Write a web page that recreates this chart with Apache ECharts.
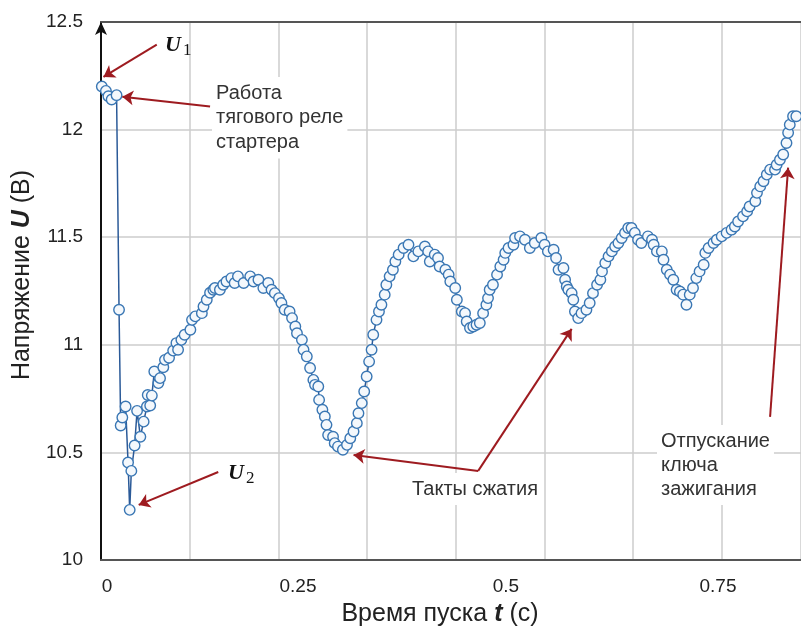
<!DOCTYPE html>
<html>
<head>
<meta charset="utf-8">
<script src="https://cdn.jsdelivr.net/npm/echarts@6/dist/echarts.min.js"></script>
<style>
html, body { margin: 0; background: #fff; }
#chart { width: 801px; height: 632px; }
</style>
</head>
<body>
<div id="chart"></div>
<script>
// время пуска, с
const timeS = [
  0.001, 0.006, 0.009, 0.013, 0.019, 0.022, 0.024, 0.026, 0.030, 0.033,
  0.035, 0.037, 0.041, 0.044, 0.048, 0.052, 0.056, 0.057, 0.060, 0.062,
  0.065, 0.070, 0.072, 0.076, 0.078, 0.083, 0.088, 0.092, 0.094, 0.098,
  0.102, 0.109, 0.111, 0.115, 0.123, 0.125, 0.129, 0.133, 0.137, 0.139,
  0.145, 0.149, 0.153, 0.159, 0.163, 0.167, 0.174, 0.182, 0.186, 0.192,
  0.198, 0.204, 0.208, 0.212, 0.217, 0.220, 0.224, 0.230, 0.233, 0.237,
  0.239, 0.245, 0.247, 0.251, 0.255, 0.259, 0.261, 0.265, 0.266, 0.270,
  0.273, 0.275, 0.277, 0.283, 0.285, 0.289, 0.295, 0.300, 0.304, 0.308,
  0.312, 0.314, 0.318, 0.321, 0.324, 0.327, 0.330, 0.332, 0.336, 0.339,
  0.342, 0.346, 0.348, 0.352, 0.356, 0.359, 0.363, 0.369, 0.375, 0.381,
  0.387, 0.395, 0.399, 0.401, 0.407, 0.411, 0.413, 0.420, 0.424, 0.426,
  0.432, 0.434, 0.440, 0.444, 0.446, 0.450, 0.454, 0.458, 0.462, 0.466,
  0.470, 0.472, 0.474, 0.478, 0.483, 0.487, 0.491, 0.493, 0.497, 0.503,
  0.505, 0.511, 0.517, 0.523, 0.529, 0.537, 0.541, 0.545, 0.552, 0.555,
  0.558, 0.564, 0.566, 0.568, 0.570, 0.574, 0.576, 0.578, 0.582, 0.586,
  0.592, 0.596, 0.600, 0.605, 0.609, 0.611, 0.615, 0.619, 0.623, 0.627,
  0.631, 0.635, 0.639, 0.643, 0.647, 0.651, 0.655, 0.659, 0.667, 0.672,
  0.674, 0.678, 0.684, 0.686, 0.690, 0.694, 0.698, 0.702, 0.706, 0.710,
  0.714, 0.718, 0.722, 0.726, 0.730, 0.735, 0.737, 0.741, 0.747, 0.751,
  0.757, 0.763, 0.769, 0.773, 0.777, 0.783, 0.788, 0.791, 0.798, 0.800,
  0.804, 0.808, 0.812, 0.816, 0.822, 0.824, 0.828, 0.832, 0.836, 0.838,
  0.840, 0.844, 0.848
];
// напряжение, В
const voltage = [
  12.200, 12.180, 12.155, 12.140, 12.160, 11.163, 10.625, 10.662, 10.713, 10.453,
  10.233, 10.414, 10.532, 10.693, 10.573, 10.643, 10.713, 10.767, 10.718, 10.764,
  10.876, 10.822, 10.845, 10.896, 10.930, 10.940, 10.973, 11.008, 10.977, 11.023,
  11.047, 11.070, 11.116, 11.132, 11.147, 11.178, 11.209, 11.242, 11.256, 11.264,
  11.256, 11.279, 11.294, 11.310, 11.287, 11.318, 11.287, 11.318, 11.294, 11.302,
  11.264, 11.287, 11.256, 11.240, 11.217, 11.194, 11.163, 11.155, 11.124, 11.085,
  11.054, 11.023, 10.977, 10.946, 10.892, 10.837, 10.814, 10.806, 10.744, 10.698,
  10.667, 10.628, 10.581, 10.573, 10.543, 10.527, 10.512, 10.535, 10.566, 10.597,
  10.636, 10.682, 10.729, 10.783, 10.853, 10.922, 10.977, 11.047, 11.116, 11.155,
  11.186, 11.233, 11.279, 11.318, 11.349, 11.387, 11.419, 11.450, 11.465, 11.411,
  11.434, 11.457, 11.434, 11.387, 11.419, 11.403, 11.364, 11.349, 11.326, 11.294,
  11.264, 11.209, 11.155, 11.147, 11.108, 11.078, 11.085, 11.093, 11.101, 11.147,
  11.186, 11.217, 11.256, 11.279, 11.326, 11.364, 11.395, 11.427, 11.450, 11.465,
  11.496, 11.504, 11.488, 11.450, 11.473, 11.496, 11.465, 11.434, 11.442, 11.403,
  11.349, 11.357, 11.302, 11.271, 11.256, 11.240, 11.209, 11.155, 11.124, 11.147,
  11.163, 11.194, 11.240, 11.279, 11.302, 11.341, 11.380, 11.411, 11.434, 11.457,
  11.473, 11.496, 11.520, 11.543, 11.543, 11.520, 11.488, 11.473, 11.504, 11.488,
  11.465, 11.434, 11.434, 11.395, 11.349, 11.326, 11.302, 11.256, 11.248, 11.233,
  11.186, 11.233, 11.264, 11.310, 11.341, 11.372, 11.427, 11.450, 11.473, 11.488,
  11.504, 11.520, 11.535, 11.550, 11.573, 11.597, 11.620, 11.643, 11.667, 11.706,
  11.736, 11.760, 11.791, 11.814, 11.814, 11.837, 11.860, 11.884, 11.938, 11.985,
  12.023, 12.062, 12.062
];
const xTickLabels = ['0', '0.25', '0.5', '0.75'];
const yTickLabels = ['10', '10.5', '11', '11.5', '12', '12.5'];

const points = timeS.map((t, i) => [t, voltage[i]]);

const chart = echarts.init(document.getElementById('chart'));

const arrowRed = '#9e1b20';
const textFont = 'Liberation Sans, Arial, sans-serif';
const mathFont = 'Liberation Serif, DejaVu Serif, serif';
const tickStyle = { fontSize: 19, color: '#222', fontFamily: textFont };

chart.setOption({
  animation: false,
  backgroundColor: '#fff',
  grid: { left: 101, right: 0, top: 22, bottom: 72 },
  xAxis: [{
    type: 'value',
    min: 0,
    max: 0.8537,
    interval: 0.25,
    name: 'Время пуска {b|t} (с)',
    nameLocation: 'middle',
    nameGap: 42,
    nameTextStyle: {
      fontSize: 25, color: '#222', fontFamily: textFont,
      padding: [0, 22, 0, 0],
      rich: { b: { fontSize: 25, fontWeight: 'bold', fontStyle: 'italic', color: '#222', fontFamily: textFont } }
    },
    axisLine: { show: true, lineStyle: { color: '#555', width: 2 } },
    axisTick: { show: false },
    splitLine: { show: false },
    axisLabel: {
      margin: 17,
      showMaxLabel: false,
      formatter: v => {
        const i = Math.round(v / 0.25);
        return xTickLabels[i] ? '{p' + i + '|' + xTickLabels[i] + '}' : '';
      },
      rich: {
        p0: Object.assign({ padding: [0, 0, 0, 12] }, tickStyle),
        p1: Object.assign({ padding: [0, 16, 0, 0] }, tickStyle),
        p2: Object.assign({ padding: [0, 10, 0, 0] }, tickStyle),
        p3: Object.assign({ padding: [0, 0, 0, 4] }, tickStyle)
      }
    }
  }, {
    // сетка вертикальных линий со своим шагом
    type: 'value',
    position: 'top',
    min: 0,
    max: 7.892,
    interval: 1,
    axisLine: { show: true, lineStyle: { color: '#555', width: 2 } },
    axisTick: { show: false },
    axisLabel: { show: false },
    splitLine: { show: true, lineStyle: { color: '#cccccc', width: 1.5 } }
  }],
  yAxis: {
    type: 'value',
    min: 10,
    max: 12.5,
    interval: 0.5,
    name: 'Напряжение {b|U} (В)',
    nameLocation: 'middle',
    nameGap: 66,
    nameTextStyle: {
      fontSize: 25, color: '#222', fontFamily: textFont,
      padding: [0, 0, 0, 32],
      rich: { b: { fontSize: 25, fontWeight: 'bold', fontStyle: 'italic', color: '#222', fontFamily: textFont } }
    },
    axisLine: {
      show: true,
      lineStyle: { color: '#111', width: 2 },
      symbol: ['none', 'arrow'],
      symbolSize: [9, 13]
    },
    axisTick: { show: false },
    axisLabel: Object.assign({
      margin: 18,
      formatter: v => yTickLabels[Math.round((v - 10) / 0.5)]
    }, tickStyle),
    splitLine: { show: true, lineStyle: { color: '#cccccc', width: 1.5 } }
  },
  series: [{
    type: 'line',
    xAxisIndex: 0,
    data: points,
    symbol: 'circle',
    symbolSize: 10.5,
    showAllSymbol: true,
    lineStyle: { color: '#2b5a98', width: 1.5 },
    itemStyle: { color: '#f4f8fc', borderColor: '#3a77b4', borderWidth: 1.4 },
    emphasis: { disabled: true },
    z: 3,
    markLine: {
      silent: true,
      symbol: ['none', 'arrow'],
      symbolSize: 11,
      label: { show: false },
      lineStyle: { color: arrowRed, width: 2, type: 'solid' },
      emphasis: { disabled: true },
      data: [
        [{ coord: [0.068, 12.395] }, { coord: [0.003, 12.245] }],
        [{ coord: [0.133, 12.107] }, { coord: [0.026, 12.153] }],
        [{ coord: [0.143, 10.409] }, { coord: [0.046, 10.256] }],
        [{ coord: [0.460, 10.414] }, { coord: [0.308, 10.488] }],
        [{ coord: [0.460, 10.414] }, { coord: [0.574, 11.074] }],
        [{ coord: [0.816, 10.665] }, { coord: [0.838, 11.823] }]
      ]
    }
  }],
  graphic: [
    { type: 'text', left: 165, top: 34, z: 5,
      style: { text: 'U', font: 'italic bold 22px ' + mathFont, fill: '#111' } },
    { type: 'text', left: 183, top: 42, z: 5,
      style: { text: '1', font: '17px ' + mathFont, fill: '#111' } },
    { type: 'text', left: 228, top: 462, z: 5,
      style: { text: 'U', font: 'italic bold 22px ' + mathFont, fill: '#111' } },
    { type: 'text', left: 246, top: 470, z: 5,
      style: { text: '2', font: '17px ' + mathFont, fill: '#111' } },
    { type: 'text', left: 212, top: 77, z: 1,
      style: {
        text: 'Работа\nтягового реле\nстартера',
        font: '20px ' + textFont, fill: '#333', lineHeight: 24.5,
        backgroundColor: '#fff', padding: [4, 4, 4, 4]
      } },
    { type: 'text', left: 408, top: 473, z: 1,
      style: {
        text: 'Такты сжатия',
        font: '20px ' + textFont, fill: '#333', lineHeight: 24,
        backgroundColor: '#fff', padding: [4, 4, 4, 4]
      } },
    { type: 'text', left: 657, top: 425, z: 1,
      style: {
        text: 'Отпускание\nключа\nзажигания',
        font: '20px ' + textFont, fill: '#333', lineHeight: 24,
        backgroundColor: '#fff', padding: [4, 4, 4, 4]
      } }
  ]
});
</script>
</body>
</html>
